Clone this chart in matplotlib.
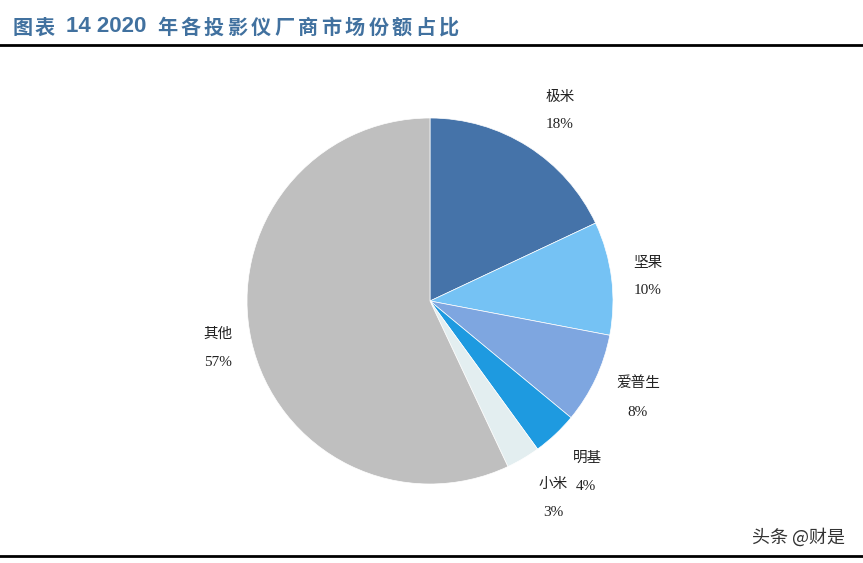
import matplotlib.pyplot as plt

# --- DATA ---
brands = ['极米', '坚果', '爱普生', '明基', '小米', '其他']
shares = [18, 10, 8, 4, 3, 57]
colors = ['#4573A9', '#75C2F4', '#7EA6E0', '#1E9AE0', '#E3EEF0', '#BFBFBF']

# label anchor points in pixels (name, percent)
label_px = [(560, 97, 124), (648, 263, 291), (638, 383, 413),
            (588, 458, None), (553, 484, 512), (218, 334, 362)]

W, H = 863, 563
CX, CY, R = 430, 301, 183

fig = plt.figure(figsize=(W / 100, H / 100), dpi=100)
ax = fig.add_axes([0, 0, 1, 1])

ax.pie(shares, colors=colors, startangle=90, counterclock=False,
       radius=1, center=(0, 0),
       wedgeprops=dict(edgecolor='white', linewidth=0.5))
ax.set_xlim(-CX / R, (W - CX) / R)
ax.set_ylim(-(H - CY) / R, CY / R)
ax.set_aspect('equal')
ax.axis('off')


def to_data(px, py):
    return (px - CX) / R, (CY - py) / R


cjk = ['Noto Sans CJK SC', 'DejaVu Sans']
serif = ['Liberation Serif', 'DejaVu Serif']

for (name, val, (px, py_name, py_val)) in zip(brands, shares, label_px):
    x, y = to_data(px, py_name)
    ax.text(x, y, name, ha='center', va='center', fontsize=10.5,
            family=cjk, color='#222222')
    if py_val is not None:
        x2, y2 = to_data(px, py_val)
        ax.text(x2, y2, f'{val}%', ha='center', va='center', fontsize=11,
                family=serif, color='#222222')

# 明基 percent sits next to 小米
x, y = to_data(586, 487)
ax.text(x, y, f'{shares[3]}%', ha='center', va='center', fontsize=11,
        family=serif, color='#222222')

# title, drawn in pieces to get the wide character spacing
title_col = '#41719F'
ty = 1 - 27 / H
for ch, cx in zip('图表', [23, 45]):
    fig.text(cx / W, ty, ch, ha='center', va='center', fontsize=14.5,
             fontweight='bold', color=title_col, family=cjk)
fig.text(66 / W, ty, '14 2020', ha='left', va='center', fontsize=16,
         fontweight='bold', color=title_col,
         family=['Liberation Sans', 'DejaVu Sans'])
for i, ch in enumerate('年各投影仪厂商市场份额占比'):
    fig.text((167 + 23.5 * i) / W, ty, ch, ha='center', va='center',
             fontsize=14.5, fontweight='bold', color=title_col, family=cjk)

fig.add_artist(plt.Line2D([0, 1], [1 - 45 / H, 1 - 45 / H],
                          color='black', linewidth=2, transform=fig.transFigure))
fig.add_artist(plt.Line2D([0, 1], [1 - 556 / H, 1 - 556 / H],
                          color='black', linewidth=2, transform=fig.transFigure))

fig.text(845 / W, 1 - 537 / H, '头条 @财是', ha='right', va='center',
         fontsize=13, color='#333333', family=cjk)

fig.savefig('out.png', dpi=100)
